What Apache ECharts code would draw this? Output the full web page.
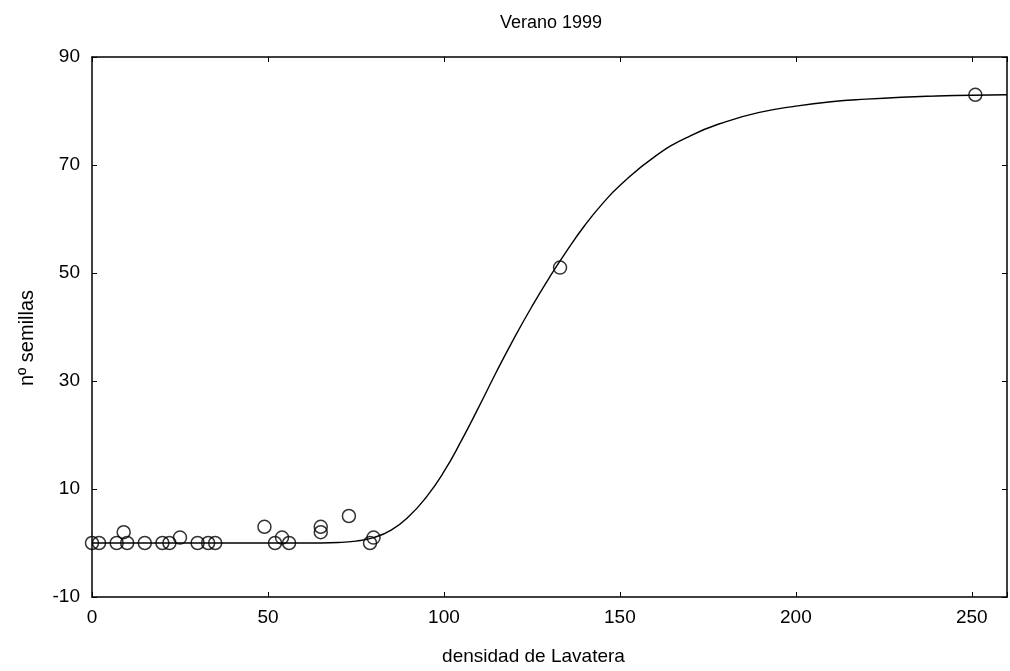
<!DOCTYPE html>
<html>
<head>
<meta charset="utf-8">
<script src="https://cdn.jsdelivr.net/npm/echarts@6/dist/echarts.min.js"></script>
<style>
  html, body { margin: 0; padding: 0; background: #fff; }
  #chart { width: 1010px; height: 671px; }
</style>
</head>
<body>
<div id="chart"></div>
<script>
// Observed seed counts against Lavatera density
const densidad = [0, 2, 7, 9, 10, 15, 20, 22, 25, 30, 33, 35, 49, 52, 54, 56, 65, 65, 73, 79, 80, 133, 251];
const semillas = [0, 0, 0, 2, 0, 0, 0, 0, 1, 0, 0, 0, 3, 0, 1, 0, 3, 2, 5, 0, 1, 51, 83];

// Fitted curve, sampled along the density axis
const curvaX = [0, 20, 40, 60, 70, 75, 80, 85, 90, 95, 100, 105, 110, 115, 120, 125, 130, 135, 140, 145, 150, 160, 170, 180, 190, 200, 210, 220, 230, 240, 250, 260];
const curvaY = [0, 0, 0, 0, 0.1, 0.35, 1.0, 2.4, 4.9, 8.5, 13.2, 19.0, 25.3, 31.8, 38.0, 43.8, 49.2, 54.2, 58.8, 62.8, 66.2, 71.6, 75.4, 78.0, 79.8, 80.9, 81.7, 82.2, 82.56, 82.78, 82.93, 83.02];

// Axis ticks
const xTicks = [0, 50, 100, 150, 200, 250];
const yTicks = [-10, 10, 30, 50, 70, 90];

const FONT = 'Liberation Sans, Arial, Helvetica, sans-serif';
const puntos = densidad.map((d, i) => [d, semillas[i]]);
const curva = curvaX.map((x, i) => [x, curvaY[i]]);

const frameLine = { show: true, onZero: false, lineStyle: { color: '#000', width: 1.5 } };
const tickIn = { show: true, inside: true, length: 5, lineStyle: { color: '#000', width: 1 } };

const chart = echarts.init(document.getElementById('chart'), null, { renderer: 'canvas' });
chart.setOption({
  backgroundColor: '#fff',
  animation: false,
  title: {
    text: 'Verano 1999',
    left: 495,
    top: 9,
    textStyle: { fontFamily: FONT, fontSize: 18, fontWeight: 'normal', color: '#000' }
  },
  grid: { left: 92, right: 3, top: 57, bottom: 74, containLabel: false },
  xAxis: [
    {
      type: 'value', min: 0, max: 260, interval: 50,
      name: 'densidad de Lavatera', nameLocation: 'middle', nameGap: 50,
      nameTextStyle: { fontFamily: FONT, fontSize: 19, color: '#000', padding: [0, 32, 0, 0] },
      axisLine: frameLine, axisTick: tickIn, splitLine: { show: false },
      axisLabel: {
        fontFamily: FONT, fontSize: 19, color: '#000', margin: 11,
        formatter: v => (xTicks.includes(v) ? String(v) : '')
      }
    },
    {
      type: 'value', position: 'top', min: 0, max: 260, interval: 50,
      axisLine: frameLine, axisTick: tickIn, axisLabel: { show: false }, splitLine: { show: false }
    }
  ],
  yAxis: [
    {
      type: 'value', min: -10, max: 90, interval: 20,
      name: 'nº semillas', nameLocation: 'middle', nameGap: 55,
      nameTextStyle: { fontFamily: FONT, fontSize: 20, color: '#000', padding: [0, 22, 0, 0] },
      axisLine: frameLine, axisTick: tickIn, splitLine: { show: false },
      axisLabel: {
        fontFamily: FONT, fontSize: 19, color: '#000', margin: 12,
        formatter: v => (yTicks.includes(v) ? String(v) : '')
      }
    },
    {
      type: 'value', position: 'right', min: -10, max: 90, interval: 20,
      axisLine: frameLine, axisTick: tickIn, axisLabel: { show: false }, splitLine: { show: false }
    }
  ],
  series: [
    {
      type: 'line',
      data: curva,
      smooth: true,
      showSymbol: false,
      lineStyle: { color: '#000', width: 1.4 },
      z: 2
    },
    {
      type: 'scatter',
      data: puntos,
      symbol: 'circle',
      symbolSize: 13,
      clip: false,
      itemStyle: { color: 'rgba(0,0,0,0)', borderColor: '#000', borderWidth: 1.5 },
      z: 3
    }
  ]
});
</script>
</body>
</html>
